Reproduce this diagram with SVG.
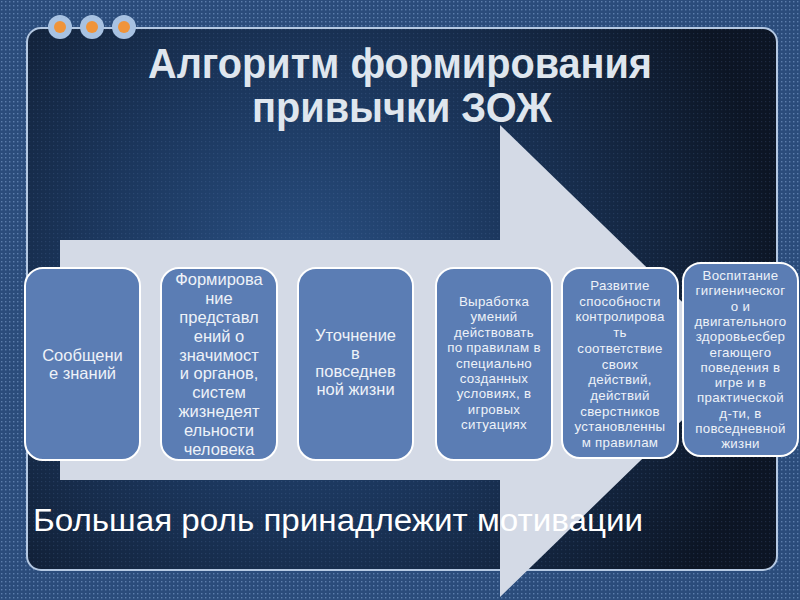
<svg xmlns="http://www.w3.org/2000/svg" width="800" height="600" viewBox="0 0 800 600">
  <defs>
    <pattern id="dots" width="4" height="4" patternUnits="userSpaceOnUse">
      <rect width="4" height="4" fill="#2b4c7b"/>
      <rect x="1" y="1" width="1.4" height="1.4" fill="#5c7eac"/>
    </pattern>
    <pattern id="dotsFaint" width="4" height="4" patternUnits="userSpaceOnUse">
      <rect x="1" y="1" width="1.2" height="1.2" fill="#6a8cbc" opacity="0.18"/>
    </pattern>
    <radialGradient id="panelGrad" cx="300" cy="290" r="480" gradientUnits="userSpaceOnUse">
      <stop offset="0" stop-color="#2a5184"/>
      <stop offset="0.45" stop-color="#1b365c"/>
      <stop offset="1" stop-color="#0c1524"/>
    </radialGradient>
    <style>
      .box { fill: #5b7db4; stroke: #ffffff; stroke-width: 2; }
      .btxt { font-family: "Liberation Sans", Arial, sans-serif; fill: #eef2f8; text-anchor: middle; }
      .big { font-size: 16.5px; }
      .small { font-size: 13.3px; letter-spacing: 0.3px; }
      .title { font-family: "Liberation Sans Narrow", "Liberation Sans", Arial, sans-serif; font-weight: bold; font-size: 42px; fill: #dfe6ee; text-anchor: middle; }
      .dotOuter { fill: #a8c2e2; }
      .dotInner { fill: #f0943a; }
    </style>
  </defs>

  <!-- background -->
  <rect width="800" height="600" fill="url(#dots)"/>
  <rect x="27" y="28" width="750" height="542" rx="14" fill="url(#panelGrad)" stroke="#b4c8e2" stroke-width="2"/>
  <rect x="28" y="29" width="748" height="540" rx="13" fill="url(#dotsFaint)"/>

  <!-- decorative dots -->
  <g id="dots-deco">
    <circle class="dotOuter" cx="60" cy="27" r="12"/>
    <circle class="dotInner" cx="60" cy="27" r="6"/>
    <circle class="dotOuter" cx="92" cy="27" r="12"/>
    <circle class="dotInner" cx="92" cy="27" r="6"/>
    <circle class="dotOuter" cx="124" cy="27" r="12"/>
    <circle class="dotInner" cx="124" cy="27" r="6"/>
  </g>

  <!-- title -->
  <g id="title">
    <text class="title" x="400" y="78" textLength="504" lengthAdjust="spacingAndGlyphs">Алгоритм формирования</text>
    <text class="title" x="402" y="122" textLength="300" lengthAdjust="spacingAndGlyphs">привычки ЗОЖ</text>
  </g>

  <!-- big flow arrow -->
  <g id="connectors">
    <polygon points="60,240 500,240 500,125 743,361 500,597 500,480 60,480" fill="#d4dae6"/>
  </g>

  <!-- nodes -->
  <g id="node1">
    <rect class="box" x="25" y="268" width="115" height="192" rx="18"/>
    <text class="btxt big" x="82.5" y="361">Сообщени</text>
    <text class="btxt big" x="82.5" y="379">е знаний</text>
  </g>

  <g id="node2">
    <rect class="box" x="161" y="268" width="116" height="192" rx="18"/>
    <text class="btxt big" x="219" y="285">Формирова</text>
    <text class="btxt big" x="219" y="304">ние</text>
    <text class="btxt big" x="219" y="323">представл</text>
    <text class="btxt big" x="219" y="342">ений о</text>
    <text class="btxt big" x="219" y="361">значимост</text>
    <text class="btxt big" x="219" y="379">и органов,</text>
    <text class="btxt big" x="219" y="398">систем</text>
    <text class="btxt big" x="219" y="417">жизнедеят</text>
    <text class="btxt big" x="219" y="436">ельности</text>
    <text class="btxt big" x="219" y="455">человека</text>
  </g>

  <g id="node3">
    <rect class="box" x="298" y="268" width="115" height="192" rx="18"/>
    <text class="btxt big" x="355.5" y="341">Уточнение</text>
    <text class="btxt big" x="355.5" y="359">в</text>
    <text class="btxt big" x="355.5" y="377">повседнев</text>
    <text class="btxt big" x="355.5" y="395">ной жизни</text>
  </g>

  <g id="node4">
    <rect class="box" x="436" y="268" width="116" height="192" rx="18"/>
    <text class="btxt small" x="494" y="306">Выработка</text>
    <text class="btxt small" x="494" y="321.4">умений</text>
    <text class="btxt small" x="494" y="336.8">действовать</text>
    <text class="btxt small" x="494" y="352.2">по правилам в</text>
    <text class="btxt small" x="494" y="367.6">специально</text>
    <text class="btxt small" x="494" y="383">созданных</text>
    <text class="btxt small" x="494" y="398.4">условиях, в</text>
    <text class="btxt small" x="494" y="413.8">игровых</text>
    <text class="btxt small" x="494" y="429.2">ситуациях</text>
  </g>

  <g id="node5">
    <rect class="box" x="562" y="268" width="116" height="190" rx="18"/>
    <text class="btxt small" x="620" y="290">Развитие</text>
    <text class="btxt small" x="620" y="305.7">способности</text>
    <text class="btxt small" x="620" y="321.4">контролирова</text>
    <text class="btxt small" x="620" y="337.1">ть</text>
    <text class="btxt small" x="620" y="352.8">соответствие</text>
    <text class="btxt small" x="620" y="368.5">своих</text>
    <text class="btxt small" x="620" y="384.2">действий,</text>
    <text class="btxt small" x="620" y="399.9">действий</text>
    <text class="btxt small" x="620" y="415.6">сверстников</text>
    <text class="btxt small" x="620" y="431.3">установленны</text>
    <text class="btxt small" x="620" y="447">м правилам</text>
  </g>

  <g id="node6">
    <rect class="box" x="683" y="263" width="115" height="193" rx="18"/>
    <text class="btxt small" x="740.5" y="280">Воспитание</text>
    <text class="btxt small" x="740.5" y="295.3">гигиеническог</text>
    <text class="btxt small" x="740.5" y="310.6">о и</text>
    <text class="btxt small" x="740.5" y="325.9">двигательного</text>
    <text class="btxt small" x="740.5" y="341.2">здоровьесбер</text>
    <text class="btxt small" x="740.5" y="356.5">егающего</text>
    <text class="btxt small" x="740.5" y="371.8">поведения в</text>
    <text class="btxt small" x="740.5" y="387.1">игре и в</text>
    <text class="btxt small" x="740.5" y="402.4">практической</text>
    <text class="btxt small" x="740.5" y="417.7">д-ти, в</text>
    <text class="btxt small" x="740.5" y="433">повседневной</text>
    <text class="btxt small" x="740.5" y="448.3">жизни</text>
  </g>

  <!-- bottom caption -->
  <g id="caption">
    <text x="33" y="531" font-family="Liberation Sans Narrow, Liberation Sans, Arial, sans-serif" font-size="31" fill="#ffffff" textLength="610" lengthAdjust="spacingAndGlyphs">Большая роль принадлежит мотивации</text>
  </g>
</svg>
